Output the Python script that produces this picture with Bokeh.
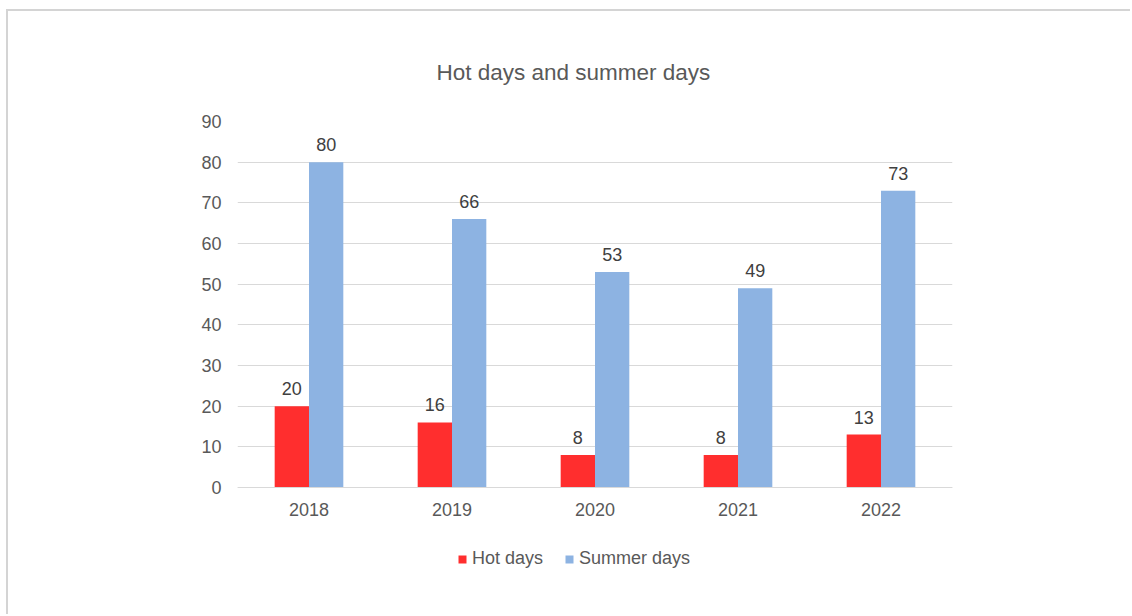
from bokeh.plotting import figure
from bokeh.models import ColumnDataSource, FactorRange, Range1d, LabelSet, Legend, LegendItem, Title, FixedTicker
from bokeh.core.properties import value
from bokeh.transform import dodge
from bokeh.embed import file_html
from bokeh.resources import INLINE

years = ["2018", "2019", "2020", "2021", "2022"]
hot_days = [20, 16, 8, 8, 13]
summer_days = [80, 66, 53, 49, 73]
y_ticks = [0, 10, 20, 30, 40, 50, 60, 70, 80, 90]

FONT = "Liberation Sans"
TXT = "#595959"
RED = "#FF2E2E"
BLUE = "#8DB3E2"

src = ColumnDataSource(dict(
    years=years, hot=hot_days, summer=summer_days,
    hot_lbl=[str(v) for v in hot_days], summer_lbl=[str(v) for v in summer_days],
))

# frame extends below the zero line so that the legend can sit inside it
p = figure(x_range=FactorRange(*years, range_padding=0), y_range=Range1d(-27.8, 90),
           width=1124, height=605, output_backend="svg", toolbar_location=None,
           min_border_left=229, min_border_right=180, min_border_top=110, min_border_bottom=16)
p.styles = {"border-top": "2px solid #d4d4d4", "border-left": "2px solid #d4d4d4",
            "margin-left": "6px", "margin-top": "9px"}

r_hot = p.vbar(x=dodge("years", -0.12, range=p.x_range), top="hot", width=0.24, source=src,
               color=RED, line_color=None)
r_sum = p.vbar(x=dodge("years", 0.12, range=p.x_range), top="summer", width=0.24, source=src,
               color=BLUE, line_color=None)

for col, lbl, off in [("hot", "hot_lbl", -0.12), ("summer", "summer_lbl", 0.12)]:
    ls = LabelSet(x=dodge("years", off, range=p.x_range), y=col, text=lbl, source=src,
                  text_align="center", text_baseline="alphabetic", y_offset=11,
                  text_font=value(FONT), text_font_size=value("18px"), text_color="#404040")
    p.add_layout(ls)

p.title = Title(text="Hot days and summer days", align="left", offset=199, standoff=74,
                text_font=FONT, text_font_size="22.5px", text_font_style="normal", text_color=TXT)

p.outline_line_color = None
p.xgrid.grid_line_color = None
p.yaxis.ticker = FixedTicker(ticks=y_ticks)
p.ygrid.grid_line_color = "#d9d9d9"
p.ygrid.grid_line_width = 1
p.yaxis.axis_line_color = None
p.yaxis.major_tick_line_color = None
p.yaxis.minor_tick_line_color = None
p.yaxis.major_tick_out = 0
p.yaxis.major_label_standoff = 16
p.xaxis.fixed_location = 0
p.xaxis.axis_line_color = "#d9d9d9"
p.xaxis.major_tick_line_color = None
p.xaxis.minor_tick_line_color = None
p.xaxis.major_tick_out = 0
p.xaxis.major_label_standoff = 16
for ax in (p.xaxis, p.yaxis):
    ax.major_label_text_font = FONT
    ax.major_label_text_font_size = "18px"
    ax.major_label_text_color = TXT

legend = Legend(items=[LegendItem(label="Hot days", renderers=[r_hot]),
                       LegendItem(label="Summer days", renderers=[r_sum])],
                orientation="horizontal", location=(220, 31),
                label_text_font=FONT, label_text_font_size="18px", label_text_color=TXT,
                glyph_width=10, glyph_height=10, label_standoff=5, spacing=21,
                border_line_color=None, background_fill_alpha=0)
p.add_layout(legend)

open("out.html", "w").write(file_html(p, INLINE))
